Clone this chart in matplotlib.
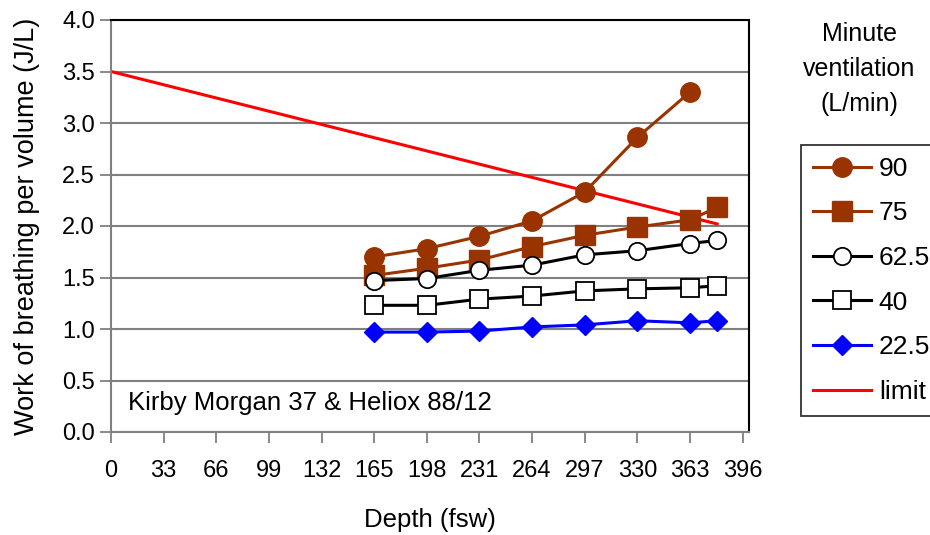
import matplotlib.pyplot as plt

plt.rcParams['font.family'] = ['Liberation Sans', 'DejaVu Sans']

depth = [165, 198, 231, 264, 297, 330, 363, 380]
wob_90 = [1.70, 1.78, 1.90, 2.05, 2.33, 2.86, 3.30]
wob_75 = [1.52, 1.59, 1.67, 1.80, 1.91, 1.99, 2.06, 2.18]
wob_62 = [1.47, 1.49, 1.57, 1.62, 1.72, 1.76, 1.83, 1.86]
wob_40 = [1.23, 1.23, 1.29, 1.32, 1.37, 1.39, 1.40, 1.42]
wob_22 = [0.97, 0.97, 0.98, 1.02, 1.04, 1.08, 1.06, 1.08]
limit_depth = [0, 380]
limit_wob = [3.5, 2.02]
x_ticks = list(range(0, 397, 33))
y_ticks = [0.0, 0.5, 1.0, 1.5, 2.0, 2.5, 3.0, 3.5, 4.0]

brown = '#993300'
fig = plt.figure(figsize=(9.3, 5.35), dpi=100)
ax = fig.add_axes([111/930, 1 - 432/535, 638/930, 412/535])

lim, = ax.plot(limit_depth, limit_wob, color='red', lw=2.2, zorder=2)
h90, = ax.plot(depth[:len(wob_90)], wob_90, color=brown, lw=2.2, marker='o', ms=14,
               mfc=brown, mec=brown, zorder=3)
h75, = ax.plot(depth, wob_75, color=brown, lw=2.2, marker='s', ms=14.5,
               mfc=brown, mec=brown, zorder=3)
h62, = ax.plot(depth, wob_62, color='black', lw=2.2, marker='o', ms=12.5,
               mfc='white', mec='black', mew=1.3, zorder=3)
h40, = ax.plot(depth, wob_40, color='black', lw=2.2, marker='s', ms=13,
               mfc='white', mec='black', mew=1.3, zorder=3)
h22, = ax.plot(depth, wob_22, color='blue', lw=2.2, marker='D', ms=10.5,
               mfc='blue', mec='blue', zorder=3)

ax.set_xlim(0, 400)
ax.set_ylim(0, 4.0)
ax.set_xticks(x_ticks)
ax.set_yticks(y_ticks)
ax.set_yticklabels([f'{v:.1f}' for v in y_ticks])
ax.tick_params(labelsize=17, color='#808080', width=1.3, length=8, direction='out')
ax.tick_params(axis='x', pad=12)
ax.grid(axis='y', color='#808080', lw=1.5)
ax.set_axisbelow(True)
for s in ['left', 'bottom']:
    ax.spines[s].set_color('#808080')
    ax.spines[s].set_linewidth(1.5)
for s in ['top', 'right']:
    ax.spines[s].set_color('black')
    ax.spines[s].set_linewidth(1.5)

ax.set_xlabel('Depth (fsw)', fontsize=18.5, labelpad=19)
ax.set_ylabel('Work of breathing per volume (J/L)', fontsize=19.5, labelpad=16)
ax.text(10.6, 0.28, 'Kirby Morgan 37 & Heliox 88/12', fontsize=18.5, va='center')

fig.text(859/930, 1 - 69/535, 'Minute\nventilation\n(L/min)', fontsize=18,
         ha='center', va='center', linespacing=1.6)
leg = fig.legend([h90, h75, h62, h40, h22, lim], ['90', '75', '62.5', '40', '22.5', 'limit'],
                 loc='upper left', bbox_to_anchor=(801/930, 1 - 145/535),
                 fontsize=19, frameon=True, fancybox=False, borderaxespad=0,
                 handlelength=2.2, handletextpad=0.3, labelspacing=0.78, borderpad=0.45)
leg.get_frame().set_edgecolor('black')
leg.get_frame().set_linewidth(1.3)

fig.savefig('out.png', dpi=100)
